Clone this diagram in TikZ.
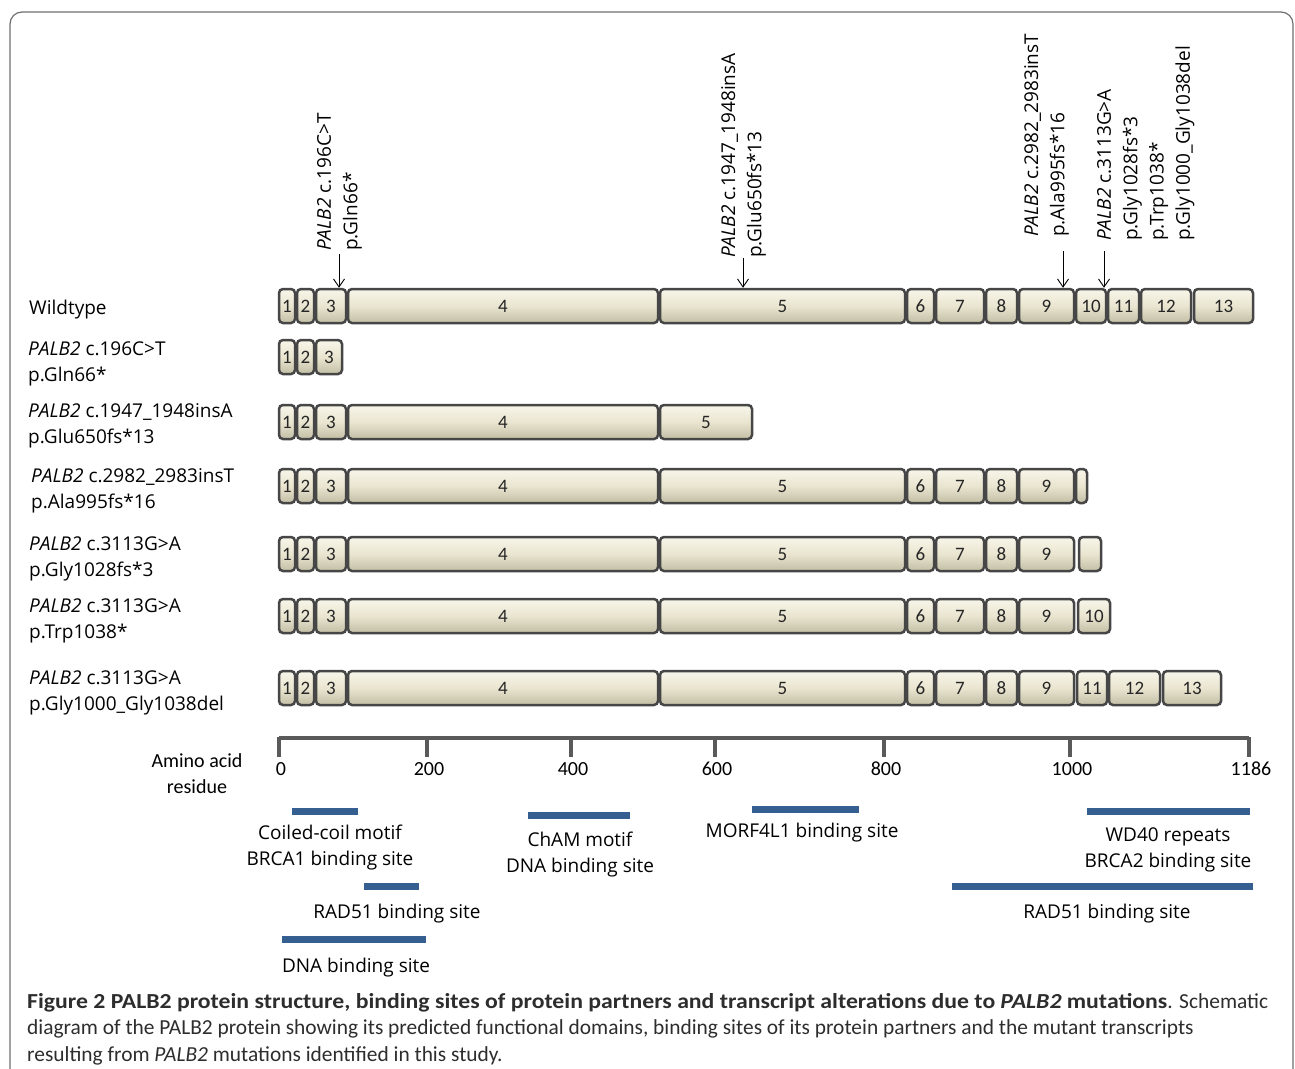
\documentclass[tikz,border=0pt]{standalone}
\usepackage{fontspec}
\setmainfont{Open Sans}
\newfontfamily\calib{Carlito}
\newfontfamily\capfont{Carlito}[BoldFeatures={FakeStretch=1.11}, BoldItalicFeatures={FakeStretch=1.11}]
\usetikzlibrary{arrows.meta}

\definecolor{exonfill}{RGB}{233,229,208}
\definecolor{exontop}{RGB}{248,246,234}
\definecolor{exonbot}{RGB}{195,190,165}
\definecolor{exonline}{RGB}{70,70,70}
\definecolor{axisgray}{RGB}{90,90,90}
\definecolor{siteblue}{RGB}{54,95,145}
\definecolor{framegray}{RGB}{110,110,110}
\definecolor{captext}{RGB}{45,45,45}

% one exon box between x positions #2 and #3
\newcommand{\exon}[5]{\node[exon, minimum width={(#3-#2)*1pt}] (#1) at ({(#2+#3)/2},#4) {#5};}

\begin{document}
\begin{tikzpicture}[x=1pt,y=-1pt]
\tikzstyle{exon}=[rectangle, rounded corners=4pt, draw=exonline, line width=2.5pt, top color=exontop, bottom color=exonbot, middle color=exonfill, minimum height=34pt, inner sep=0pt, font=\calib\fontsize{19}{22}\selectfont, text=black!85]
\tikzstyle{rowlabel}=[anchor=base west, align=left, inner sep=0pt, font=\fontsize{19}{26}\selectfont]
\tikzstyle{mutlabel}=[rotate=90, anchor=north west, align=left, inner sep=0pt, font=\fontsize{19}{26.3}\selectfont]
\tikzstyle{pointer}=[-{Straight Barb[length=8pt,width=11pt]}, line width=0.9pt]
\tikzstyle{axis}=[draw=axisgray, line width=4pt]
\tikzstyle{axlabel}=[anchor=base, inner sep=0pt, align=center, font=\calib\fontsize{20}{26}\selectfont]
\tikzstyle{site}=[draw=siteblue, line width=7pt]
\tikzstyle{sitelabel}=[anchor=base, inner sep=0pt, align=center, font=\fontsize{19}{26}\selectfont]
\tikzstyle{caption}=[anchor=base west, inner sep=0pt, text=captext, font=\capfont\fontsize{21.4}{26}\selectfont]

\useasboundingbox (0,0) rectangle (1295,1068);
\draw[framegray, line width=1.2pt, rounded corners=12pt] (10,1100) -- (10,12) -- (1293,12) -- (1293,1100);

% exons shared by the rows
\foreach \r/\y in {w/306, c/422, d/486, e/554, f/616, g/688}{
  \foreach \n/\a/\b in {1/279/295, 2/297/314, 3/316/346, 4/348/658}{
    \exon{\r\n}{\a}{\b}{\y}{\n}
  }
}
\foreach \r/\y in {w/306, d/486, e/554, f/616, g/688}{
  \foreach \n/\a/\b in {5/660/905, 6/907/934, 7/936/984, 8/986/1017, 9/1019/1074}{
    \exon{\r\n}{\a}{\b}{\y}{\n}
  }
}
\foreach \n/\a/\b in {10/1076/1106, 11/1108/1139, 12/1141/1191, 13/1194/1253}{
  \exon{w\n}{\a}{\b}{306}{\n}
}
% truncated transcripts
\foreach \n/\a/\b in {1/279/295, 2/297/314, 3/316/342}{
  \exon{b\n}{\a}{\b}{357}{\n}
}
\exon{c5}{660}{752}{422}{5}
\exon{d10}{1076}{1087}{486}{}
\exon{e10}{1079}{1101}{554}{}
\exon{f10}{1078}{1110}{616}{10}
\foreach \n/\a/\b in {11/1077/1107, 12/1109/1160, 13/1163/1221}{
  \exon{g\n}{\a}{\b}{688}{\n}
}

% row labels (base = last line)
\node[rowlabel] (lw) at (29,314) {Wildtype};
\node[rowlabel] (lb) at (28,381) {\textit{PALB2} c.196C>T\\p.Gln66*};
\node[rowlabel] (lc) at (28,443) {\textit{PALB2} c.1947\_1948insA\\p.Glu650fs*13};
\node[rowlabel] (ld) at (31,508) {\textit{PALB2} c.2982\_2983insT\\p.Ala995fs*16};
\node[rowlabel] (le) at (29,576) {\textit{PALB2} c.3113G>A\\p.Gly1028fs*3};
\node[rowlabel] (lf) at (29,638) {\textit{PALB2} c.3113G>A\\p.Trp1038*};
\node[rowlabel] (lg) at (29,710) {\textit{PALB2} c.3113G>A\\p.Gly1000\_Gly1038del};

% mutation sites
\node[mutlabel] (m1) at (317,251) {\textit{PALB2} c.196C>T\\p.Gln66*};
\node[mutlabel] (m2) at (721,258) {\textit{PALB2} c.1947\_1948insA\\p.Glu650fs*13};
\node[mutlabel] (m3) at (1024,237) {\textit{PALB2} c.2982\_2983insT\\p.Ala995fs*16};
\node[mutlabel] (m4) at (1097,241) {\textit{PALB2} c.3113G>A\\p.Gly1028fs*3\\p.Trp1038*\\p.Gly1000\_Gly1038del};
\coordinate (p1) at (339,254);
\coordinate (p2) at (743,258);
\coordinate (p3) at (1063,251);
\coordinate (p4) at (1104,251);
\draw[pointer] (p1) -- (p1 |- w3.north);
\draw[pointer] (p2) -- (p2 |- w5.north);
\draw[pointer] (p3) -- (p3 |- w9.north);
\draw[pointer] (p4) -- (p4 |- w10.north);

% amino acid scale
\draw[axis] (279,738) -- (1249,738);
\foreach \x/\v in {279/0, 427/200, 571/400, 715/600, 884/800, 1070/1000, 1249/1186}{
  \draw[axis] (\x,737) -- (\x,757);
  \node[axlabel] (t\v) at (\x+2,775) {\v};
}
\node[axlabel] (aa) at (197,793) {Amino acid\\residue};

% binding sites
\draw[site] (292,811) -- (358,811);
\node[sitelabel] (s1) at (330,865) {Coiled-coil motif\\BRCA1 binding site};
\draw[site] (364,886) -- (419,886);
\node[sitelabel] (s2) at (397,918) {RAD51 binding site};
\draw[site] (282,939) -- (426,939);
\node[sitelabel] (s3) at (356,972) {DNA binding site};
\draw[site] (528,815) -- (630,815);
\node[sitelabel] (s4) at (580,872) {ChAM motif\\DNA binding site};
\draw[site] (752,809) -- (859,809);
\node[sitelabel] (s5) at (802,837) {MORF4L1 binding site};
\draw[site] (1087,811) -- (1250,811);
\node[sitelabel] (s6) at (1168,867) {WD40 repeats\\BRCA2 binding site};
\draw[site] (952,886) -- (1253,886);
\node[sitelabel] (s7) at (1107,918) {RAD51 binding site};

% caption
\node[caption] (cap1) at (27,1008) {\textbf{Figure 2 PALB2 protein structure, binding sites of protein partners and transcript alterations due to \textit{PALB2} mutations}. Schematic};
\node[caption] (cap2) at (27,1034) {diagram of the PALB2 protein showing its predicted functional domains, binding sites of its protein partners and the mutant transcripts};
\node[caption] (cap3) at (27,1061) {resulting from \textit{PALB2} mutations identified in this study.};
\end{tikzpicture}
\end{document}
